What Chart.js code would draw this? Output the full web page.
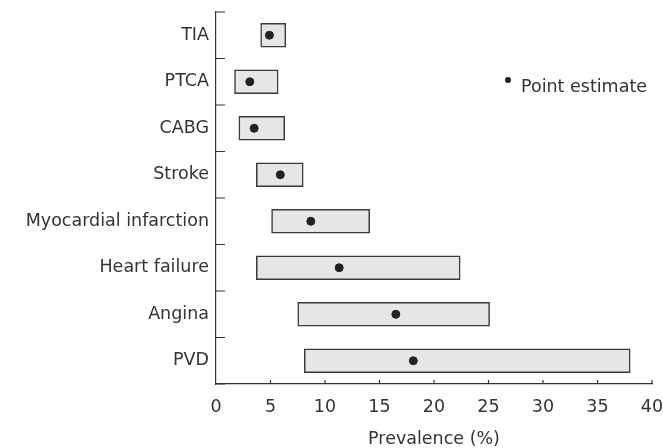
<!DOCTYPE html>
<html>
<head>
  <meta charset="utf-8">
  <title>Prevalence by condition</title>
  <script src="https://cdn.jsdelivr.net/npm/chart.js"></script>
  <style>
    body { margin: 0; background: #fff; }
    #wrap { width: 663px; height: 448px; }
  </style>
</head>
<body>
  <div id="wrap"><canvas id="chart" width="663" height="448"></canvas></div>
  <script>
    // categories top to bottom
    const conditions = ['TIA', 'PTCA', 'CABG', 'Stroke', 'Myocardial infarction', 'Heart failure', 'Angina', 'PVD'];
    // range low / high (%)
    const lowValues = [4.1, 1.7, 2.1, 3.7, 5.1, 3.7, 7.5, 8.1];
    const highValues = [6.4, 5.7, 6.3, 8.0, 14.1, 22.4, 25.1, 38.0];
    // point estimates (%)
    const pointValues = [4.9, 3.1, 3.5, 5.9, 8.7, 11.3, 16.5, 18.1];
    const xTicks = [0, 5, 10, 15, 20, 25, 30, 35, 40];

    const ink = '#333';
    const fontFamily = '"DejaVu Sans", sans-serif';
    const fontSize = 17.5;

    // inward tick marks + legend, drawn after everything
    const decorations = {
      id: 'decorations',
      afterDraw(chart) {
        const ctx = chart.ctx;
        const x = chart.scales.x, y = chart.scales.y;
        const area = chart.chartArea;
        ctx.save();
        ctx.strokeStyle = ink;
        ctx.lineWidth = 1.2;
        ctx.beginPath();
        // y ticks at category boundaries
        for (let i = 0; i <= conditions.length; i++) {
          const py = y.getPixelForValue(i - 0.5);
          ctx.moveTo(area.left, py);
          ctx.lineTo(area.left + 9, py);
        }
        // x ticks pointing up
        xTicks.forEach(v => {
          if (v === 0) return;
          const px = x.getPixelForValue(v);
          ctx.moveTo(px, area.bottom);
          ctx.lineTo(px, area.bottom - 4);
        });
        ctx.stroke();

        // legend
        const ds = chart.data.datasets[1];
        ctx.fillStyle = '#222';
        ctx.beginPath();
        ctx.arc(508, 80, 3, 0, Math.PI * 2);
        ctx.fill();
        ctx.fillStyle = ink;
        ctx.font = fontSize + 'px ' + fontFamily;
        ctx.textBaseline = 'middle';
        ctx.fillText(ds.label, 521, 87);
        ctx.restore();
      }
    };

    new Chart(document.getElementById('chart'), {
      type: 'bar',
      data: {
        labels: conditions,
        datasets: [{
          label: 'Range',
          data: conditions.map((c, i) => [lowValues[i], highValues[i]]),
          backgroundColor: '#e6e6e6',
          borderColor: '#3a3a3a',
          borderWidth: 1.5,
          borderSkipped: false,
          barThickness: 24,
          order: 2
        }, {
          type: 'scatter',
          label: 'Point estimate',
          data: conditions.map((c, i) => ({ x: pointValues[i], y: c })),
          backgroundColor: '#222',
          borderColor: '#222',
          pointRadius: 4,
          order: 1
        }]
      },
      options: {
        indexAxis: 'y',
        responsive: false,
        animation: false,
        layout: { padding: { left: 0, right: 11, top: 12, bottom: 0 } },
        plugins: {
          legend: { display: false },
          tooltip: { enabled: false }
        },
        scales: {
          x: {
            type: 'linear',
            min: 0,
            max: 40,
            afterBuildTicks: s => { s.ticks = xTicks.map(v => ({ value: v })); },
            afterFit: s => { s.height = 64; s.paddingLeft = 0; s.paddingRight = 0; },
            grid: { display: false, drawTicks: false },
            border: { display: true, color: ink, width: 1.2 },
            ticks: { color: ink, padding: 13, font: { family: fontFamily, size: fontSize } },
            title: {
              display: true,
              text: 'Prevalence (%)',
              color: ink,
              padding: { top: 0, bottom: -2 },
              font: { family: fontFamily, size: fontSize }
            }
          },
          y: {
            type: 'category',
            offset: true,
            afterFit: s => { s.width = 216; s.paddingTop = 0; s.paddingBottom = 0; },
            grid: { display: false, drawTicks: false },
            border: { display: true, color: ink, width: 1.2 },
            ticks: { color: ink, padding: 7, font: { family: fontFamily, size: fontSize } }
          }
        }
      },
      plugins: [decorations]
    });
  </script>
</body>
</html>
